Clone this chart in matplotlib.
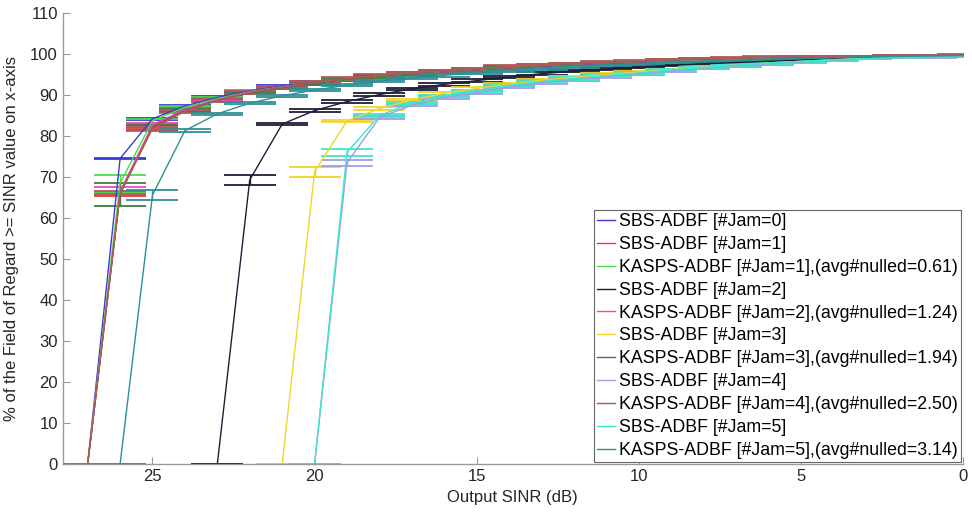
import matplotlib.pyplot as plt

plt.rcParams['font.family'] = ['Liberation Sans', 'DejaVu Sans']

# SINR grid (dB), every series ends at 0 dB
sinr_db = list(range(27, -1, -1))

labels = [
    "SBS-ADBF [#Jam=0]",
    "SBS-ADBF [#Jam=1]",
    "KASPS-ADBF [#Jam=1],(avg#nulled=0.61)",
    "SBS-ADBF [#Jam=2]",
    "KASPS-ADBF [#Jam=2],(avg#nulled=1.24)",
    "SBS-ADBF [#Jam=3]",
    "KASPS-ADBF [#Jam=3],(avg#nulled=1.94)",
    "SBS-ADBF [#Jam=4]",
    "KASPS-ADBF [#Jam=4],(avg#nulled=2.50)",
    "SBS-ADBF [#Jam=5]",
    "KASPS-ADBF [#Jam=5],(avg#nulled=3.14)",
]
colors = ['#3b3bd6', '#e03a3a', '#45e045', '#1e1e38', '#ee45c8', '#f2d32a',
          '#3d7d3d', '#9d9de6', '#b35a5a', '#3de6cc', '#2f9096']

# % of field of regard >= SINR, values from 27 dB (or later start) down to 0 dB
sbs_j0 = [0, 74.5, 84.2, 87.3, 89.4, 91.0, 92.2, 93.1, 93.9, 94.6, 95.2, 95.7, 96.2, 96.7,
          97.1, 97.5, 97.8, 98.1, 98.4, 98.6, 98.8, 99.0, 99.2, 99.3, 99.4, 99.5, 99.6, 99.7]
sbs_j1 = [0, 65.8, 82.4, 86.3, 88.8, 90.6, 91.9, 92.8, 93.7, 94.4, 95.1, 95.7, 96.2, 96.7,
          97.1, 97.5, 97.8, 98.1, 98.4, 98.6, 98.8, 99.0, 99.2, 99.3, 99.4, 99.5, 99.6, 99.7]
kas_j1 = [0, 68.5, 83.7, 87.0, 89.1, 90.8, 92.0, 92.9, 93.7, 94.5, 95.2, 95.8, 96.3, 96.8,
          97.2, 97.6, 97.9, 98.2, 98.4, 98.6, 98.8, 99.0, 99.2, 99.3, 99.4, 99.5, 99.6, 99.7]
sbs_j2 = [0, 69.3, 82.9, 86.2, 88.4, 90.1, 91.5, 92.6, 93.5, 94.4, 95.2, 95.8, 96.3, 96.8,
          97.2, 97.6, 97.9, 98.2, 98.5, 98.8, 99.0, 99.2, 99.4, 99.5]
kas_j2 = [0, 66.5, 82.7, 86.5, 88.9, 90.7, 92.0, 92.9, 93.8, 94.6, 95.3, 95.8, 96.3, 96.8,
          97.2, 97.6, 97.9, 98.2, 98.5, 98.7, 98.9, 99.1, 99.2, 99.4, 99.5, 99.6, 99.7, 99.7]
sbs_j3 = [0, 71.3, 83.7, 86.7, 88.8, 90.4, 91.6, 92.7, 93.6, 94.3, 95.0, 95.6, 96.2, 96.8,
          97.3, 97.8, 98.2, 98.6, 98.9, 99.1, 99.3, 99.4]
kas_j3 = [0, 65.8, 82.0, 86.2, 88.7, 90.5, 91.8, 92.8, 93.7, 94.5, 95.2, 95.8, 96.3, 96.8,
          97.2, 97.6, 97.9, 98.2, 98.5, 98.7, 98.9, 99.1, 99.2, 99.4, 99.5, 99.6, 99.7, 99.7]
sbs_j4 = [0, 73.5, 84.5, 87.5, 89.4, 90.6, 91.9, 93.0, 93.8, 94.5, 95.2, 95.9, 96.5, 97.1,
          97.6, 98.1, 98.5, 98.8, 99.0, 99.2, 99.3]
kas_j4 = [0, 66.0, 81.8, 86.0, 88.6, 90.6, 92.0, 93.1, 94.0, 94.8, 95.4, 95.9, 96.4, 96.9,
          97.3, 97.7, 98.0, 98.3, 98.6, 98.8, 99.0, 99.2, 99.3, 99.4, 99.5, 99.6, 99.7, 99.8]
sbs_j5 = [0, 76.0, 85.0, 88.0, 89.8, 91.0, 92.3, 93.3, 94.0, 94.7, 95.4, 96.1, 96.7, 97.3,
          97.8, 98.2, 98.6, 98.9, 99.1, 99.3, 99.4]
kas_j5 = [0, 65.6, 81.3, 85.4, 88.0, 89.8, 91.2, 92.4, 93.4, 94.1, 94.8, 95.4, 95.9, 96.4,
          96.8, 97.2, 97.6, 97.9, 98.2, 98.5, 98.7, 98.9, 99.1, 99.3, 99.4, 99.5, 99.6]

# error bar half-heights (same length as the series)
err_sbs_j0 = [0, 0.2, 0.2, 0.3, 0.3, 0.3, 0.3, 0.3, 0.3, 0.3, 0.3, 0.3, 0.3, 0.3,
              0.3, 0.2, 0.2, 0.2, 0.2, 0.2, 0.2, 0.2, 0.2, 0.1, 0.1, 0.1, 0.1, 0.1]
err_sbs_j1 = [0, 0.4, 0.4, 0.3, 0.3, 0.3, 0.3, 0.3, 0.3, 0.3, 0.3, 0.3, 0.3, 0.3,
              0.3, 0.2, 0.2, 0.2, 0.2, 0.2, 0.2, 0.2, 0.2, 0.1, 0.1, 0.1, 0.1, 0.1]
err_kas_j1 = [0, 2.1, 0.5, 0.4, 0.3, 0.3, 0.3, 0.3, 0.3, 0.3, 0.3, 0.3, 0.3, 0.3,
              0.3, 0.2, 0.2, 0.2, 0.2, 0.2, 0.2, 0.2, 0.2, 0.1, 0.1, 0.1, 0.1, 0.1]
err_sbs_j2 = [0, 1.2, 0.3, 0.3, 0.3, 0.3, 0.3, 0.3, 0.3, 0.3, 0.3, 0.3, 0.3, 0.3,
              0.2, 0.2, 0.2, 0.2, 0.2, 0.2, 0.1, 0.1, 0.1, 0.1]
err_kas_j2 = [0, 1.0, 0.5, 0.4, 0.3, 0.3, 0.3, 0.3, 0.3, 0.3, 0.3, 0.3, 0.3, 0.3,
              0.3, 0.2, 0.2, 0.2, 0.2, 0.2, 0.2, 0.2, 0.2, 0.1, 0.1, 0.1, 0.1, 0.1]
err_sbs_j3 = [0, 1.2, 0.3, 0.3, 0.3, 0.3, 0.3, 0.3, 0.3, 0.3, 0.3, 0.3, 0.2, 0.2,
              0.2, 0.2, 0.2, 0.1, 0.1, 0.1, 0.1, 0.1]
err_kas_j3 = [0, 2.8, 0.6, 0.4, 0.3, 0.3, 0.3, 0.3, 0.3, 0.3, 0.3, 0.3, 0.3, 0.3,
              0.3, 0.2, 0.2, 0.2, 0.2, 0.2, 0.2, 0.2, 0.2, 0.1, 0.1, 0.1, 0.1, 0.1]
err_sbs_j4 = [0, 0.7, 0.3, 0.3, 0.3, 0.3, 0.3, 0.3, 0.3, 0.3, 0.3, 0.3, 0.2, 0.2,
              0.2, 0.2, 0.2, 0.1, 0.1, 0.1, 0.1]
err_kas_j4 = [0, 0.5, 0.5, 0.4, 0.3, 0.3, 0.3, 0.3, 0.3, 0.3, 0.3, 0.3, 0.3, 0.3,
              0.3, 0.2, 0.2, 0.2, 0.2, 0.2, 0.2, 0.2, 0.2, 0.1, 0.1, 0.1, 0.1, 0.1]
err_sbs_j5 = [0, 0.9, 0.4, 0.3, 0.3, 0.3, 0.3, 0.3, 0.3, 0.3, 0.3, 0.3, 0.2, 0.2,
              0.2, 0.2, 0.2, 0.1, 0.1, 0.1, 0.1]
err_kas_j5 = [0, 1.2, 0.4, 0.3, 0.3, 0.3, 0.3, 0.3, 0.3, 0.3, 0.3, 0.3, 0.3, 0.3,
              0.2, 0.2, 0.2, 0.2, 0.2, 0.2, 0.2, 0.2, 0.1, 0.1, 0.1, 0.1, 0.1]

series = [sbs_j0, sbs_j1, kas_j1, sbs_j2, kas_j2, sbs_j3, kas_j3, sbs_j4, kas_j4, sbs_j5, kas_j5]
errors = [err_sbs_j0, err_sbs_j1, err_kas_j1, err_sbs_j2, err_kas_j2, err_sbs_j3,
          err_kas_j3, err_sbs_j4, err_kas_j4, err_sbs_j5, err_kas_j5]

fig = plt.figure(figsize=(9.72, 5.18), dpi=100)
ax = fig.add_axes([0.0645, 0.104, 0.9262, 0.871])

handles = []
for y, e, c in zip(series, errors, colors):
    x = sinr_db[-len(y):]
    cont = ax.errorbar(x, y, yerr=e, color=c, linewidth=1.0, elinewidth=1.0,
                       capsize=18.5, capthick=1.3)
    handles.append(cont[0])

ax.set_xlim(27.77, 0)
ax.set_ylim(0, 110)
ax.set_xticks([25, 20, 15, 10, 5, 0])
ax.set_yticks(range(0, 111, 10))
ax.tick_params(direction='in', length=5, labelsize=12, colors='#262626',
               width=0.8, top=False, right=False)
for side in ['top', 'right']:
    ax.spines[side].set_visible(False)
for side in ['left', 'bottom']:
    ax.spines[side].set_color('#9a9a9a')
    ax.spines[side].set_linewidth(1.0)
ax.tick_params(color='#9a9a9a')

ax.set_xlabel("Output SINR (dB)", fontsize=12, color='#262626')
ax.set_ylabel("% of the Field of Regard >= SINR value on x-axis", fontsize=12,
              color='#262626', labelpad=8)

leg = ax.legend(handles, labels, loc='lower right', fontsize=12.8, frameon=True,
                fancybox=False, framealpha=1, edgecolor='#666666',
                handlelength=1.0, handletextpad=0.2, labelspacing=0.33,
                borderaxespad=0.1, borderpad=0.2)
leg.get_frame().set_linewidth(0.8)

fig.savefig("out.png", dpi=100)
